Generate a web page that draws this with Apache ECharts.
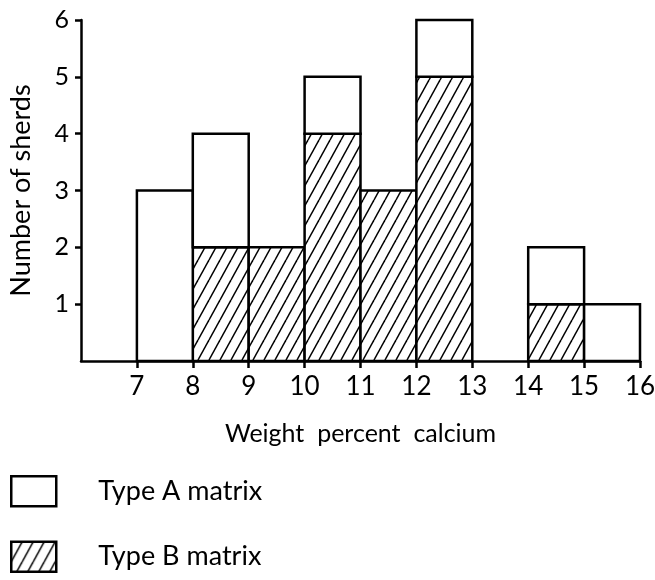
<!DOCTYPE html>
<html>
<head>
<meta charset="utf-8">
<script src="https://cdn.jsdelivr.net/npm/echarts@6/dist/echarts.min.js"></script>
<style>
  html, body { margin: 0; padding: 0; background: #fff; }
  #chart { width: 655px; height: 580px; }
</style>
</head>
<body>
<div id="chart"></div>
<script>
// Histogram of sherds by weight percent calcium, split by matrix type
const binStart = [7, 8, 9, 10, 11, 12, 14, 15];
const binEnd   = [8, 9, 10, 11, 12, 13, 15, 16];
const typeA    = [3, 2, 0, 1, 0, 1, 1, 1];
const typeB    = [0, 2, 2, 4, 3, 5, 1, 0];
const xTicks   = [7, 8, 9, 10, 11, 12, 13, 14, 15, 16];
const yTicks   = [1, 2, 3, 4, 5, 6];

const FONT = 'Lato, "DejaVu Sans", sans-serif';

// diagonal hatch tile ("/" lines)
function makeHatch() {
  const w = 11, h = 20;
  const c = document.createElement('canvas');
  c.width = w; c.height = h;
  const g = c.getContext('2d');
  g.fillStyle = '#fff';
  g.fillRect(0, 0, w, h);
  g.strokeStyle = '#000';
  g.lineWidth = 1.5;
  for (let k = -1; k <= 1; k++) {
    g.beginPath();
    g.moveTo(k * w, h);
    g.lineTo(k * w + w, 0);
    g.stroke();
  }
  return c;
}
const hatch = { image: makeHatch(), repeat: 'repeat' };

const binsB = binStart.map((s, i) => [s, binEnd[i], 0, typeB[i]]);
const binsA = binStart.map((s, i) => [s, binEnd[i], typeB[i], typeB[i] + typeA[i]]);

function renderBin(fill) {
  return function (params, api) {
    const x0 = api.value(0), x1 = api.value(1);
    const y0 = api.value(2), y1 = api.value(3);
    if (y1 <= y0) return null;
    const p0 = api.coord([x0, y0]);
    const p1 = api.coord([x1, y1]);
    return {
      type: 'rect',
      shape: { x: p0[0], y: p1[1], width: p1[0] - p0[0], height: p0[1] - p1[1] },
      style: { fill: fill, stroke: '#000', lineWidth: 2.5 }
    };
  };
}

const chart = echarts.init(document.getElementById('chart'), null, { renderer: 'canvas' });
chart.setOption({
  backgroundColor: '#fff',
  animation: false,
  textStyle: { fontFamily: FONT, color: '#000' },
  grid: { left: 81, right: 15, top: 20, bottom: 219, containLabel: false, outerBoundsMode: 'none' },
  xAxis: {
    type: 'value', min: 6, max: 16, interval: 1,
    name: 'Weight  percent  calcium',
    nameLocation: 'middle', nameGap: 60,
    nameTextStyle: { fontSize: 25, color: '#000', fontFamily: FONT },
    axisLine: { show: true, onZero: false, lineStyle: { color: '#000', width: 2.5 } },
    axisTick: { show: true, customValues: xTicks, length: 7, lineStyle: { color: '#000', width: 2.5 } },
    axisLabel: { customValues: xTicks, fontSize: 26, color: '#000', margin: 13, fontFamily: FONT },
    splitLine: { show: false }
  },
  yAxis: {
    type: 'value', min: 0, max: 6, interval: 1,
    name: 'Number of sherds',
    nameLocation: 'middle', nameGap: 46, nameRotate: 90,
    nameTextStyle: { fontSize: 27, color: '#000', fontFamily: FONT },
    axisLine: { show: true, lineStyle: { color: '#000', width: 2.5 } },
    axisTick: { show: true, customValues: yTicks, length: 6, lineStyle: { color: '#000', width: 2.5 } },
    axisLabel: { customValues: yTicks, fontSize: 25, color: '#000', margin: 12, fontFamily: FONT },
    splitLine: { show: false }
  },
  legend: {
    orient: 'vertical', left: 10, top: 475, padding: 0,
    itemWidth: 45, itemHeight: 30, itemGap: 33,
    icon: 'rect',
    itemStyle: { borderColor: '#000', borderWidth: 2.5 },
    data: ['Type A matrix', 'Type B matrix'],
    textStyle: { fontSize: 27, color: '#000', fontFamily: FONT, padding: [0, 0, 0, 37] }
  },
  series: [
    {
      name: 'Type B matrix', type: 'custom',
      renderItem: renderBin(hatch),
      encode: { x: [0, 1], y: [2, 3] },
      itemStyle: { color: hatch, borderColor: '#000', borderWidth: 2.5 },
      data: binsB, z: 2
    },
    {
      name: 'Type A matrix', type: 'custom',
      renderItem: renderBin('#fff'),
      encode: { x: [0, 1], y: [2, 3] },
      itemStyle: { color: '#fff', borderColor: '#000', borderWidth: 2.5 },
      data: binsA, z: 3
    }
  ]
});
</script>
</body>
</html>
